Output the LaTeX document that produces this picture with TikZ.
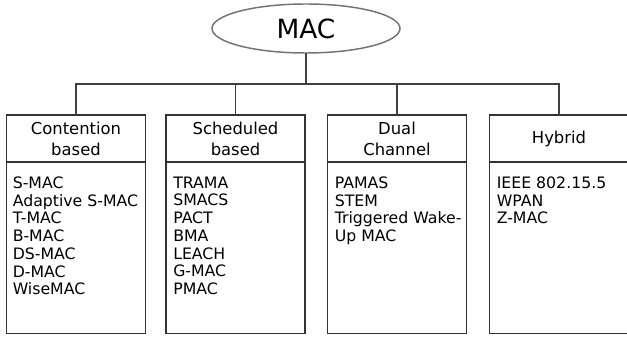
\documentclass[tikz,border=0pt]{standalone}
\usepackage{fontspec}
\setmainfont{DejaVu Sans}
\usetikzlibrary{shapes.geometric}
% one drawing unit = one pixel of the 627 x 338 layout
\newcommand\pxu{0.75pt}
\tikzset{
  root/.style={ellipse, draw=black!55, line width=1.1pt, inner sep=0pt, outer sep=0pt,
    minimum width=188*\pxu, minimum height=49*\pxu,
    font=\fontsize{19.8pt}{22pt}\selectfont},
  headbox/.style={rectangle, draw=black!80, line width=1pt, inner sep=0pt, outer sep=0pt,
    minimum width=139*\pxu, minimum height=47*\pxu, align=center,
    font=\fontsize{12.3pt}{15.75pt}\selectfont},
  bodybox/.style={rectangle, draw=black!80, line width=1pt, inner sep=0pt, outer sep=0pt,
    minimum width=139*\pxu, minimum height=171.5*\pxu},
  itemlist/.style={anchor=north west, inner sep=0pt, align=left,
    font=\fontsize{11.8pt}{13.3pt}\selectfont},
  link/.style={draw=black!75, line width=0.8pt}
}
\begin{document}
\begin{tikzpicture}[x=0.75pt, y=-0.75pt]
  \useasboundingbox (0,0) rectangle (627,338);

  % root of the classification
  \node[root] (mac) at (306,28.5) {MAC};
  \coordinate (bus) at (306,84);

  % category headers
  \node[headbox] (h1) at (76,138.5)    {Contention\\based};
  \node[headbox] (h2) at (235.5,138.5) {Scheduled\\based};
  \node[headbox] (h3) at (397,138.5)   {Dual\\Channel};
  \node[headbox] (h4) at (559,138.5)   {Hybrid};

  % protocol lists under each header
  \node[bodybox, anchor=north] (b1) at (h1.south) {};
  \node[bodybox, anchor=north] (b2) at (h2.south) {};
  \node[bodybox, anchor=north] (b3) at (h3.south) {};
  \node[bodybox, anchor=north] (b4) at (h4.south) {};

  \node[itemlist] (l1) at ([xshift=6*\pxu, yshift=-14.5*\pxu]b1.north west)
    {S-MAC\\Adaptive S-MAC\\T-MAC\\B-MAC\\DS-MAC\\D-MAC\\WiseMAC};
  \node[itemlist] (l2) at ([xshift=7*\pxu, yshift=-14.5*\pxu]b2.north west)
    {TRAMA\\SMACS\\PACT\\BMA\\LEACH\\G-MAC\\PMAC};
  \node[itemlist] (l3) at ([xshift=7*\pxu, yshift=-14.5*\pxu]b3.north west)
    {PAMAS\\STEM\\Triggered Wake-\\Up MAC};
  \node[itemlist] (l4) at ([xshift=7*\pxu, yshift=-14.5*\pxu]b4.north west)
    {IEEE 802.15.5\\WPAN\\Z-MAC};

  % tree connectors
  \draw[link] (mac.south) -- (bus);
  \draw[link] (h1.north) |- (bus);
  \draw[link] (h2.north) |- (bus);
  \draw[link] (h3.north) |- (bus);
  \draw[link] (h4.north) |- (bus);
\end{tikzpicture}
\end{document}
